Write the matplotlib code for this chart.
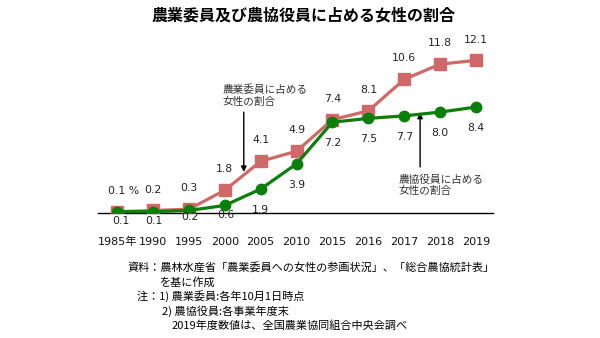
import matplotlib
matplotlib.use("Agg")
import matplotlib.pyplot as plt

plt.rcParams['font.family'] = ['DejaVu Sans', 'Noto Sans CJK JP']

years = ["1985年", "1990", "1995", "2000", "2005", "2010", "2015", "2016", "2017", "2018", "2019"]
committee = [0.1, 0.2, 0.3, 1.8, 4.1, 4.9, 7.4, 8.1, 10.6, 11.8, 12.1]
ja_officers = [0.1, 0.1, 0.2, 0.6, 1.9, 3.9, 7.2, 7.5, 7.7, 8.0, 8.4]

title = "農業委員及び農協役員に占める女性の割合"
label_committee = "農業委員に占める\n女性の割合"
label_ja = "農協役員に占める\n女性の割合"
notes = [
    "資料：農林水産省「農業委員への女性の参画状況」、「総合農協統計表」",
    "を基に作成",
    "注：1) 農業委員:各年10月1日時点",
    "2) 農協役員:各事業年度末",
    "2019年度数値は、全国農業協同組合中央会調べ",
]

pink = "#d06868"
green = "#0a800a"
cjk = ['Noto Sans CJK JP', 'DejaVu Sans']

W, H = 600, 338
fig = plt.figure(figsize=(W / 100, H / 100), dpi=100)

def fx(px):
    return px / W

def fy(py):
    return 1 - py / H

ax_left, ax_right, ax_bottom, ax_top = 98, 493, 213, 49
ax = fig.add_axes([fx(ax_left), fy(ax_bottom), (ax_right - ax_left) / W, (ax_bottom - ax_top) / H])

x = list(range(len(years)))
ax.plot(x, committee, color=pink, lw=2.3, marker='s', ms=8.5, zorder=3)
ax.plot(x, ja_officers, color=green, lw=2.3, marker='o', ms=7.5, zorder=4)

ax.set_xlim(-0.53, 10.47)
ax.set_ylim(0, 13)

for s in ['top', 'right', 'left']:
    ax.spines[s].set_visible(False)
ax.spines['bottom'].set_linewidth(1.0)
ax.spines['bottom'].set_color('black')
ax.set_yticks([])
ax.set_xticks(x)
ax.set_xticklabels(years, fontsize=8.0, color='#111111')
ax.tick_params(axis='x', length=0, pad=17)

lab_fs = 7.8
for i, v in enumerate(committee):
    txt = f"{v:.1f}"
    if i == 0:
        ax.annotate(txt + " %", (i, v), xytext=(-6.5, 15), textcoords='offset points',
                    ha='left', va='center', fontsize=lab_fs, color='#222222')
    else:
        ax.annotate(txt, (i, v), xytext=(0, 15), textcoords='offset points',
                    ha='center', va='center', fontsize=lab_fs, color='#222222')

green_offsets = [-7, -7, -5, -7, -15, -15, -15, -15, -15, -15, -15]
green_dx = [3, 1, 1, 1, 0, 0, 0, 0, 0, 0, 0]
for i, v in enumerate(ja_officers):
    ax.annotate(f"{v:.1f}", (i, v), xytext=(green_dx[i], green_offsets[i]), textcoords='offset points',
                ha='center', va='center', fontsize=lab_fs, color='#222222', zorder=5)

# callout texts
ax.text(2.95, 9.3, label_committee, ha='left', va='center', fontsize=7.7, color='#333333',
        linespacing=1.15, family=cjk)
ax.text(7.83, 2.2, label_ja, ha='left', va='center', fontsize=7.7, color='#333333',
        linespacing=1.15, family=cjk)
arrow = dict(arrowstyle='-|>', color='black', lw=1.0, mutation_scale=8, shrinkA=0, shrinkB=0)
ax.annotate('', xy=(3.53, 3.25), xytext=(3.53, 8.0), arrowprops=arrow)
ax.annotate('', xy=(8.44, 7.95), xytext=(8.44, 3.65), arrowprops=arrow)

fig.text(0.505, fy(15), title, ha='center', va='center', fontsize=11.5, fontweight='bold', family=cjk)

nfs = 8.0
fig.text(fx(128), fy(267), notes[0], ha='left', va='center', fontsize=nfs, family=cjk)
fig.text(fx(160), fy(282), notes[1], ha='left', va='center', fontsize=nfs, family=cjk)
fig.text(fx(137), fy(296), notes[2], ha='left', va='center', fontsize=nfs, family=cjk)
fig.text(fx(162), fy(311), notes[3], ha='left', va='center', fontsize=nfs, family=cjk)
fig.text(fx(172), fy(326), notes[4], ha='left', va='center', fontsize=nfs, family=cjk)

fig.savefig("out.png", dpi=100)
